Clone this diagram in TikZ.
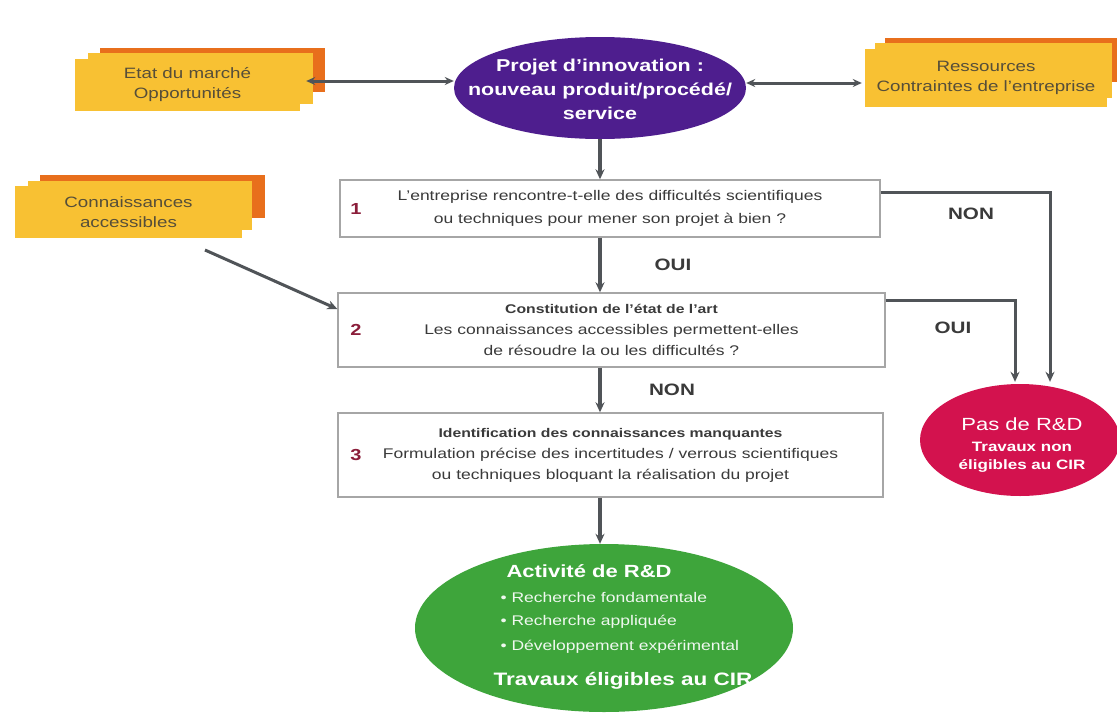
\documentclass[tikz,border=0pt]{standalone}
\usepackage{fontspec}
\setmainfont{Liberation Sans}[FakeStretch=1.25]
\usetikzlibrary{shapes.geometric,arrows.meta}
\definecolor{purp}{HTML}{4E1E8E}
\definecolor{grn}{HTML}{3EA53B}
\definecolor{rd}{HTML}{D3124E}
\definecolor{ylw}{HTML}{F8C133}
\definecolor{org}{HTML}{E86F1C}
\definecolor{lnk}{HTML}{505458}
\definecolor{num}{HTML}{8B1E3A}
\definecolor{txt}{HTML}{3A3A3A}
\newcommand\hdfont{\bfseries\fontsize{12.6}{16}\selectfont}
\tikzset{
  x=1pt,y=-1pt,
  qbox/.style={draw=gray!70,line width=1.4pt,fill=white,minimum width=#1,minimum height=60pt,align=center,font=\fontsize{14}{21}\selectfont,text=txt},
  ybox/.style={fill=ylw,minimum width=#1,minimum height=50pt,align=center,font=\fontsize{15}{20}\selectfont,text=txt!85!ylw,inner sep=0pt},
  link/.style={draw=lnk,line width=3.6pt,-{Stealth[length=10pt,width=9pt]}},
  slink/.style={draw=lnk,line width=3pt,-{Stealth[length=10pt,width=9pt]}},
  dlink/.style={draw=lnk,line width=3pt,{Stealth[length=9pt,width=8pt]}-{Stealth[length=9pt,width=8pt]}},
  lab/.style={font=\bfseries\fontsize{16.5}{18}\selectfont,text=txt},
  numb/.style={font=\bfseries\fontsize{16}{18}\selectfont,text=num}
}
\begin{document}
\begin{tikzpicture}
\useasboundingbox (0,0) rectangle (1117,718);
\fill[white] (0,0) rectangle (1117,718);

% stacked yellow boxes
\fill[org] (100,48) rectangle (325,92);
\fill[ylw] (88,53) rectangle (313,104);
\node[ybox=225pt,minimum height=52pt] (etat) at (187.5,85) {Etat du marché\\Opportunités};

\fill[org] (885,38) rectangle (1117,82);
\fill[ylw] (875,43) rectangle (1112,98);
\node[ybox=242pt,minimum height=58pt] (res) at (986,78) {Ressources\\Contraintes de l'entreprise};

\fill[org] (40,175) rectangle (265,218);
\fill[ylw] (28,181) rectangle (252,230);
\node[ybox=227pt,minimum height=52pt] (conn) at (128.5,212) {Connaissances\\accessibles};

% purple ellipse
\node[ellipse,fill=purp,minimum width=292pt,minimum height=102pt,inner sep=0pt] (proj) at (600,88) {};
\node[text=white,align=center,font=\bfseries\fontsize{17.2}{24}\selectfont] (projt) at (600,89) {Projet d'innovation :\\nouveau produit/procédé/\\service};

% question boxes
\node[qbox=540pt,minimum height=57pt,font=\fontsize{14}{23}\selectfont] (b1) at (610,208.5) {L'entreprise rencontre-t-elle des difficultés scientifiques\\ou techniques pour mener son projet à bien ?};
\node[numb] (n1) at (356,209) {1};

\node[qbox=547pt,minimum height=74pt] (b2) at (611.5,330) {{\hdfont Constitution de l'état de l'art}\\Les connaissances accessibles permettent-elles\\de résoudre la ou les difficultés ?};
\node[numb] (n2) at (356,330) {2};

\node[qbox=545pt,minimum height=84pt] (b3) at (610.5,455) {{\hdfont Identification des connaissances manquantes}\\Formulation précise des incertitudes / verrous scientifiques\\ou techniques bloquant la réalisation du projet};
\node[numb] (n3) at (356,455) {3};

% red ellipse
\node[ellipse,fill=rd,minimum width=200pt,minimum height=112pt,inner sep=0pt] (nord) at (1020,440) {};
\node[text=white,font=\fontsize{17.6}{20}\selectfont] (nordt) at (1022,424) {Pas de R\&D};
\node[text=white,align=center,font=\bfseries\fontsize{13.6}{18}\selectfont] (nords) at (1022,457) {Travaux non\\éligibles au CIR};

% green ellipse
\node[ellipse,fill=grn,minimum width=378pt,minimum height=168pt,inner sep=0pt] (rd) at (604,628) {};
\node[anchor=west,text=white,font=\bfseries\fontsize{17.6}{22}\selectfont] (rdt) at (503,571) {Activité de R\&D};
\node[anchor=west,text=white!92!grn,font=\fontsize{14}{15}\selectfont] (rb1) at (497,597) {\textbullet\ Recherche fondamentale};
\node[anchor=west,text=white!92!grn,font=\fontsize{14}{15}\selectfont] (rb2) at (497,622) {\textbullet\ Recherche appliquée};
\node[anchor=west,text=white!92!grn,font=\fontsize{14}{15}\selectfont] (rb3) at (497,647) {\textbullet\ Développement expérimental};
\node[anchor=west,text=white,font=\bfseries\fontsize{18}{21}\selectfont] (rdf) at (490,681) {Travaux éligibles au CIR};

% connectors
\draw[dlink] ([xshift=6pt,yshift=4pt]etat.east) -- ([yshift=4pt]etat.east -| proj.west);
\draw[dlink] ([yshift=5pt]proj.east) -- ([xshift=-3pt,yshift=5pt]proj.east -| res.west);
\coordinate (cs) at (205,250);
\draw[slink] (cs) -- ([yshift=21pt]b2.west);
\draw[link] (proj.south) -- (b1.north -| proj.south);
\draw[link] (b1.south -| proj.south) -- (b2.north -| proj.south);
\draw[link] (b2.south -| proj.south) -- (b3.north -| proj.south);
\draw[link] (b3.south -| proj.south) -- (rd.north -| proj.south);

\coordinate (c1) at (1050,192);
\coordinate (c2) at (1015,300);
\draw[slink] (b1.east |- c1) -- (c1) -- ([yshift=2pt]c1 |- nord.north);
\draw[slink] (b2.east |- c2) -- (c2) -- ([yshift=2pt]c2 |- nord.north);

\node[lab] (oui1) at (673,265) {OUI};
\node[lab] (non1) at (672,390) {NON};
\node[lab] (non2) at (971,214) {NON};
\node[lab] (oui2) at (953,328) {OUI};
\end{tikzpicture}
\end{document}
